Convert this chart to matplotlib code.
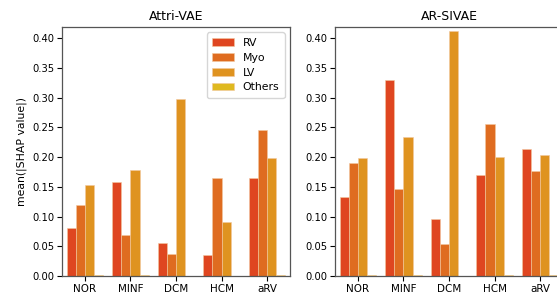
import matplotlib.pyplot as plt
import numpy as np

categories = ["NOR", "MINF", "DCM", "HCM", "aRV"]
regions = ["RV", "Myo", "LV", "Others"]
colors = ["#df4620", "#df6c20", "#df9320", "#dfb920"]

attri_vae = {
    "RV": [0.080, 0.158, 0.055, 0.035, 0.165],
    "Myo": [0.120, 0.069, 0.037, 0.165, 0.246],
    "LV": [0.153, 0.178, 0.298, 0.091, 0.198],
    "Others": [0.0015, 0.0012, 0.0008, 0.0008, 0.0012],
}
ar_sivae = {
    "RV": [0.133, 0.329, 0.096, 0.170, 0.213],
    "Myo": [0.190, 0.147, 0.054, 0.255, 0.176],
    "LV": [0.198, 0.234, 0.411, 0.200, 0.203],
    "Others": [0.0015, 0.0012, 0.0008, 0.0012, 0.0010],
}


def draw_panel(ax, data, title):
    x = np.arange(len(categories))
    width = 0.2
    for i, (name, color) in enumerate(zip(regions, colors)):
        offset = (i - 1.5) * width
        ax.bar(x + offset, data[name], width, color=color, label=name,
               edgecolor="#f2c8a0", linewidth=0.4)
    ax.set_xticks(x)
    ax.set_xticklabels(categories, fontsize=7.5)
    ax.set_xlim(-0.5, 4.5)
    ax.set_ylim(0, 0.4185)
    ax.set_yticks(np.arange(0, 0.41, 0.05))
    ax.set_yticklabels([f"{v:.2f}" for v in np.arange(0, 0.41, 0.05)])
    ax.tick_params(axis="y", labelsize=7.2, length=3.5, width=0.8, pad=2)
    ax.tick_params(axis="x", length=3.5, width=0.8, pad=2)
    ax.set_title(title, fontsize=9, pad=5)
    for spine in ax.spines.values():
        spine.set_color("#555555")
        spine.set_linewidth(0.9)


fig = plt.figure(figsize=(5.57, 2.92), dpi=100)
ax1 = fig.add_axes([62 / 557, 16 / 292, 228 / 557, 249 / 292])
ax2 = fig.add_axes([335 / 557, 16 / 292, 228 / 557, 249 / 292])

draw_panel(ax1, attri_vae, "Attri-VAE")
draw_panel(ax2, ar_sivae, "AR-SIVAE")

ax1.set_ylabel("mean(|SHAP value|)", fontsize=7.8, labelpad=4)
ax1.legend(loc="upper right", fontsize=7.8, frameon=True, handlelength=2.0,
           borderpad=0.5, labelspacing=0.45, handletextpad=0.8)

fig.savefig("out.png", dpi=100)
